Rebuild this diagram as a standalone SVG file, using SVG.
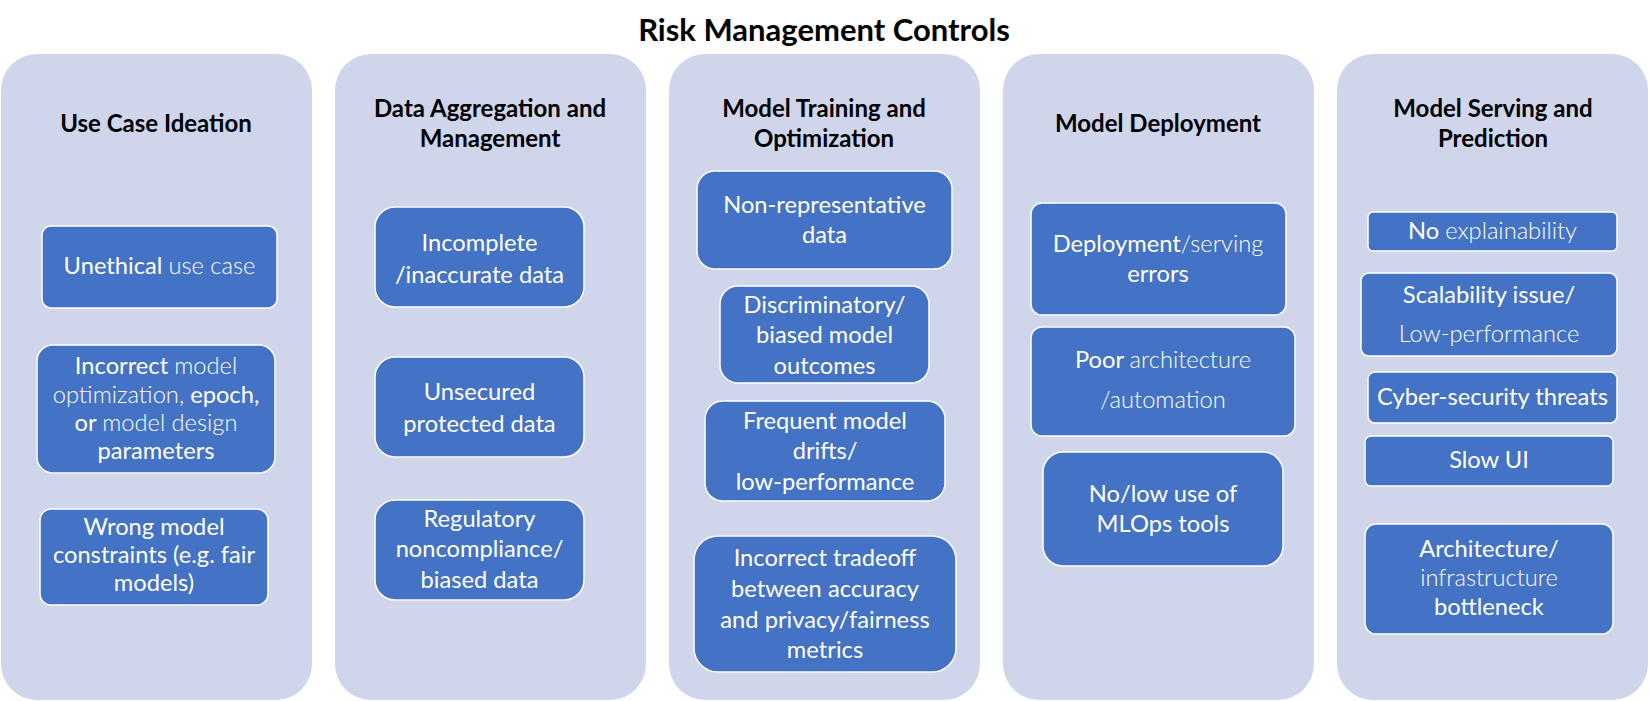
<svg xmlns="http://www.w3.org/2000/svg" width="1650" height="701" viewBox="0 0 1650 701">
<style>
.col{fill:#CFD5EA;}
.box{fill:#4472C4;stroke:#FFFFFF;stroke-width:1.5;}
.title{font-family:Lato,"Liberation Sans",sans-serif;font-weight:700;font-size:31px;fill:#000;text-anchor:middle;}
.hd{font-family:Lato,"Liberation Sans",sans-serif;font-weight:700;font-size:24px;fill:#000;text-anchor:middle;}
.t{font-family:Lato,"Liberation Sans",sans-serif;font-weight:400;font-size:23.7px;fill:#FFFFFF;text-anchor:middle;}
.l{font-weight:300;}
</style>
<rect width="1650" height="701" fill="#FFFFFF"/>
<text class="title" x="824" y="41">Risk Management Controls</text>

<g id="col-use-case">
<rect class="col" x="1" y="54" width="311" height="646" rx="36"/>
<text class="hd" x="156" y="132">Use Case Ideation</text>
</g>
<g id="col-data">
<rect class="col" x="335" y="54" width="311" height="646" rx="36"/>
<text class="hd" x="490" y="117">Data Aggregation and</text>
<text class="hd" x="490" y="147">Management</text>
</g>
<g id="col-training">
<rect class="col" x="669" y="54" width="311" height="646" rx="36"/>
<text class="hd" x="824" y="117">Model Training and</text>
<text class="hd" x="824" y="147">Optimization</text>
</g>
<g id="col-deploy">
<rect class="col" x="1003" y="54" width="311" height="646" rx="36"/>
<text class="hd" x="1158" y="132">Model Deployment</text>
</g>
<g id="col-serving">
<rect class="col" x="1337" y="54" width="311" height="646" rx="36"/>
<text class="hd" x="1493" y="117">Model Serving and</text>
<text class="hd" x="1493" y="147">Prediction</text>
</g>

<g id="n-unethical">
<rect class="box" x="42" y="226" width="235" height="82" rx="9"/>
<text class="t" x="159.5" y="274">Unethical <tspan class="l">use case</tspan></text>
</g>
<g id="n-incorrect-model">
<rect class="box" x="37" y="345" width="238" height="128" rx="16"/>
<text class="t" x="156" y="374">Incorrect <tspan class="l">model</tspan></text>
<text class="t" x="156" y="403"><tspan class="l">optimization,</tspan> epoch,</text>
<text class="t" x="156" y="431">or <tspan class="l">model design</tspan></text>
<text class="t" x="156" y="459">parameters</text>
</g>
<g id="n-wrong-constraints">
<rect class="box" x="40" y="509" width="228" height="96" rx="11"/>
<text class="t" x="154" y="535">Wrong model</text>
<text class="t" x="154" y="563">constraints (e.g. fair</text>
<text class="t" x="154" y="591">models)</text>
</g>

<g id="n-incomplete">
<rect class="box" x="375" y="207" width="209" height="100" rx="20"/>
<text class="t" x="479.5" y="251">Incomplete</text>
<text class="t" x="479.5" y="283">/inaccurate data</text>
</g>
<g id="n-unsecured">
<rect class="box" x="375" y="357" width="209" height="100" rx="20"/>
<text class="t" x="479.5" y="400">Unsecured</text>
<text class="t" x="479.5" y="432">protected data</text>
</g>
<g id="n-regulatory">
<rect class="box" x="375" y="500" width="209" height="100" rx="20"/>
<text class="t" x="479.5" y="527">Regulatory</text>
<text class="t" x="479.5" y="557">noncompliance/</text>
<text class="t" x="479.5" y="588">biased data</text>
</g>

<g id="n-nonrep">
<rect class="box" x="697" y="171" width="255" height="98" rx="18"/>
<text class="t" x="824.5" y="213">Non-representative</text>
<text class="t" x="824.5" y="243">data</text>
</g>
<g id="n-discrim">
<rect class="box" x="720" y="286" width="209" height="97" rx="18"/>
<text class="t" x="824.5" y="313">Discriminatory/</text>
<text class="t" x="824.5" y="343">biased model</text>
<text class="t" x="824.5" y="374">outcomes</text>
</g>
<g id="n-drift">
<rect class="box" x="705" y="401" width="240" height="100" rx="18"/>
<text class="t" x="825" y="429">Frequent model</text>
<text class="t" x="825" y="459">drifts/</text>
<text class="t" x="825" y="490">low-performance</text>
</g>
<g id="n-tradeoff">
<rect class="box" x="694" y="536" width="262" height="136" rx="24"/>
<text class="t" x="825" y="566">Incorrect tradeoff</text>
<text class="t" x="825" y="597">between accuracy</text>
<text class="t" x="825" y="628">and privacy/fairness</text>
<text class="t" x="825" y="658">metrics</text>
</g>

<g id="n-deploy-errors">
<rect class="box" x="1031" y="203" width="255" height="112" rx="11"/>
<text class="t" x="1158" y="252">Deployment<tspan class="l">/serving</tspan></text>
<text class="t" x="1158" y="282">errors</text>
</g>
<g id="n-poor-arch">
<rect class="box" x="1031" y="327" width="264" height="109" rx="11"/>
<text class="t" x="1163" y="368">Poor <tspan class="l">architecture</tspan></text>
<text class="t" x="1163" y="408"><tspan class="l">/automation</tspan></text>
</g>
<g id="n-mlops">
<rect class="box" x="1043" y="452" width="240" height="114" rx="20"/>
<text class="t" x="1163" y="502">No/low use of</text>
<text class="t" x="1163" y="532">MLOps tools</text>
</g>

<g id="n-explain">
<rect class="box" x="1368" y="212" width="249" height="39" rx="5"/>
<text class="t" x="1492.5" y="239">No <tspan class="l">explainability</tspan></text>
</g>
<g id="n-scal">
<rect class="box" x="1361" y="273" width="256" height="83" rx="8"/>
<text class="t" x="1489" y="303">Scalability issue/</text>
<text class="t" x="1489" y="342"><tspan class="l">Low-performance</tspan></text>
</g>
<g id="n-cyber">
<rect class="box" x="1368" y="372" width="249" height="51" rx="7"/>
<text class="t" x="1492.5" y="405">Cyber-security threats</text>
</g>
<g id="n-slowui">
<rect class="box" x="1365" y="436" width="248" height="50" rx="6"/>
<text class="t" x="1489" y="468">Slow UI</text>
</g>
<g id="n-bottleneck">
<rect class="box" x="1365" y="524" width="248" height="110" rx="11"/>
<text class="t" x="1489" y="557">Architecture/</text>
<text class="t" x="1489" y="586"><tspan class="l">infrastructure</tspan></text>
<text class="t" x="1489" y="615">bottleneck</text>
</g>

<g id="connectors"></g>
</svg>
